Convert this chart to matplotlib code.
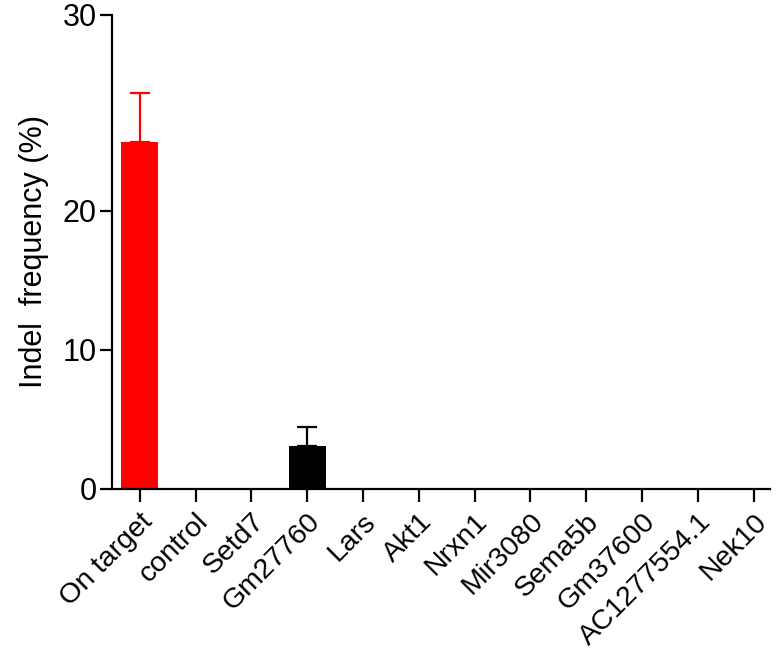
import numpy as np
import matplotlib
matplotlib.use("Agg")
import matplotlib.pyplot as plt
from matplotlib.transforms import ScaledTranslation

plt.rcParams['font.family'] = ['Liberation Sans', 'DejaVu Sans']

targets = ['On target', 'control', 'Setd7', 'Gm27760', 'Lars', 'Akt1', 'Nrxn1',
           'Mir3080', 'Sema5b', 'Gm37600', 'AC1277554.1', 'Nek10']
freq = [23.5, 0, 0, 3.1, 0, 0, 0, 0, 0, 0, 0, 0]
err = [2.5, 0, 0, 1.35, 0, 0, 0, 0, 0, 0, 0, 0]
colors = ['#ff0000', 'black', 'black', 'black', 'black', 'black', 'black',
          'black', 'black', 'black', 'black', 'black']

# segmented y axis: above 20 the scale is stretched
K = 196 / 139.


def fwd(y):
    y = np.asarray(y, dtype=float)
    return np.where(y <= 20, y, 20 + (y - 20) * K)


def inv(y):
    y = np.asarray(y, dtype=float)
    return np.where(y <= 20, y, 20 + (y - 20) / K)


fig = plt.figure(figsize=(7.83, 6.52), dpi=100)
ax = fig.add_axes([0.143, 0.250, 0.840, 0.727])
ax.set_yscale('function', functions=(fwd, inv))

x = np.arange(len(targets))
for i in range(len(targets)):
    if freq[i] <= 0:
        continue
    ax.bar(x[i], freq[i], width=0.66, color=colors[i], zorder=2)
    ax.errorbar(x[i], freq[i], yerr=[[0], [err[i]]], fmt='none',
                ecolor=colors[i], elinewidth=1.6, capsize=7, capthick=1.6, zorder=1)

ax.set_xlim(-0.5, 11.29)
ax.set_ylim(0, 30)
ax.set_yticks([0, 10, 20, 30])
ax.set_xticks(x)
ax.set_xticklabels(targets, rotation=45, ha='right', va='top',
                   rotation_mode='anchor', fontsize=20.5)
shift = ScaledTranslation(4 / 72, 0, fig.dpi_scale_trans)
for lab in ax.get_xticklabels():
    lab.set_transform(lab.get_transform() + shift)
ax.tick_params(axis='y', labelsize=22, length=9, width=1.6, pad=2)
ax.tick_params(axis='x', length=9, width=1.6, pad=5)
ax.set_ylabel('Indel  frequency (%)', fontsize=22, labelpad=10)

for s in ['top', 'right']:
    ax.spines[s].set_visible(False)
for s in ['left', 'bottom']:
    ax.spines[s].set_linewidth(1.6)

fig.savefig('out.png', dpi=100)
